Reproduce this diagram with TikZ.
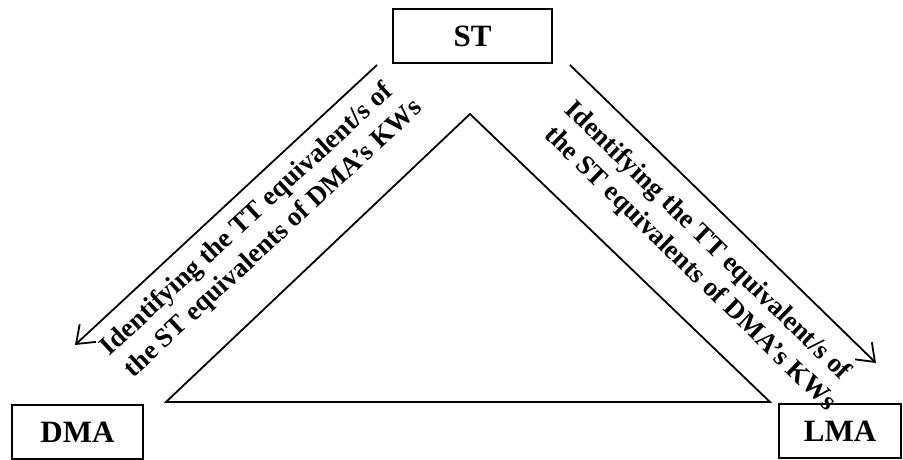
\documentclass[tikz,border=0pt]{standalone}
\usepackage{fontspec}
\setmainfont{Liberation Serif}
\usetikzlibrary{arrows.meta}
\begin{document}
\begin{tikzpicture}[x=1pt,y=-1pt,
  box/.style={draw,line width=1.8pt,minimum height=54pt,inner sep=0pt,font=\fontsize{31}{36}\selectfont\bfseries},
  edge/.style={line width=1.8pt},
  arr/.style={line width=1.8pt,-{Straight Barb[length=16pt,width=24pt,line width=1.8pt]}},
  lbl/.style={align=center,font=\fontsize{27}{32}\selectfont\bfseries,inner sep=0pt}]
\useasboundingbox (0,0) rectangle (903,460);
\node[box,minimum width=159pt] (st) at (472.5,36) {ST};
\node[box,minimum width=131pt] (dma) at (77.5,432) {DMA};
\node[box,minimum width=122pt] (lma) at (840,431) {LMA};
\coordinate (apex) at (470,114);
\coordinate (bl) at (166,402);
\coordinate (br) at (770,402);
\draw[edge,line join=miter] (bl) -- (apex) -- (br) -- cycle;
\coordinate (la) at (377,65);
\coordinate (lb) at (75,345);
\coordinate (ra) at (570,65);
\coordinate (rb) at (876,363);
\draw[arr] (la) -- (lb);
\draw[arr] (ra) -- (rb);
\node[lbl,rotate=42.8] (ltext) at (258,232) {Identifying the TT equivalent/s of\\\hspace*{14pt}the ST equivalents of DMA’s KWs};
\node[lbl,rotate=-44.2] (rtext) at (696,253) {Identifying the TT equivalent/s of\\\hspace*{14pt}the ST equivalents of DMA’s KWs};
\end{tikzpicture}
\end{document}
